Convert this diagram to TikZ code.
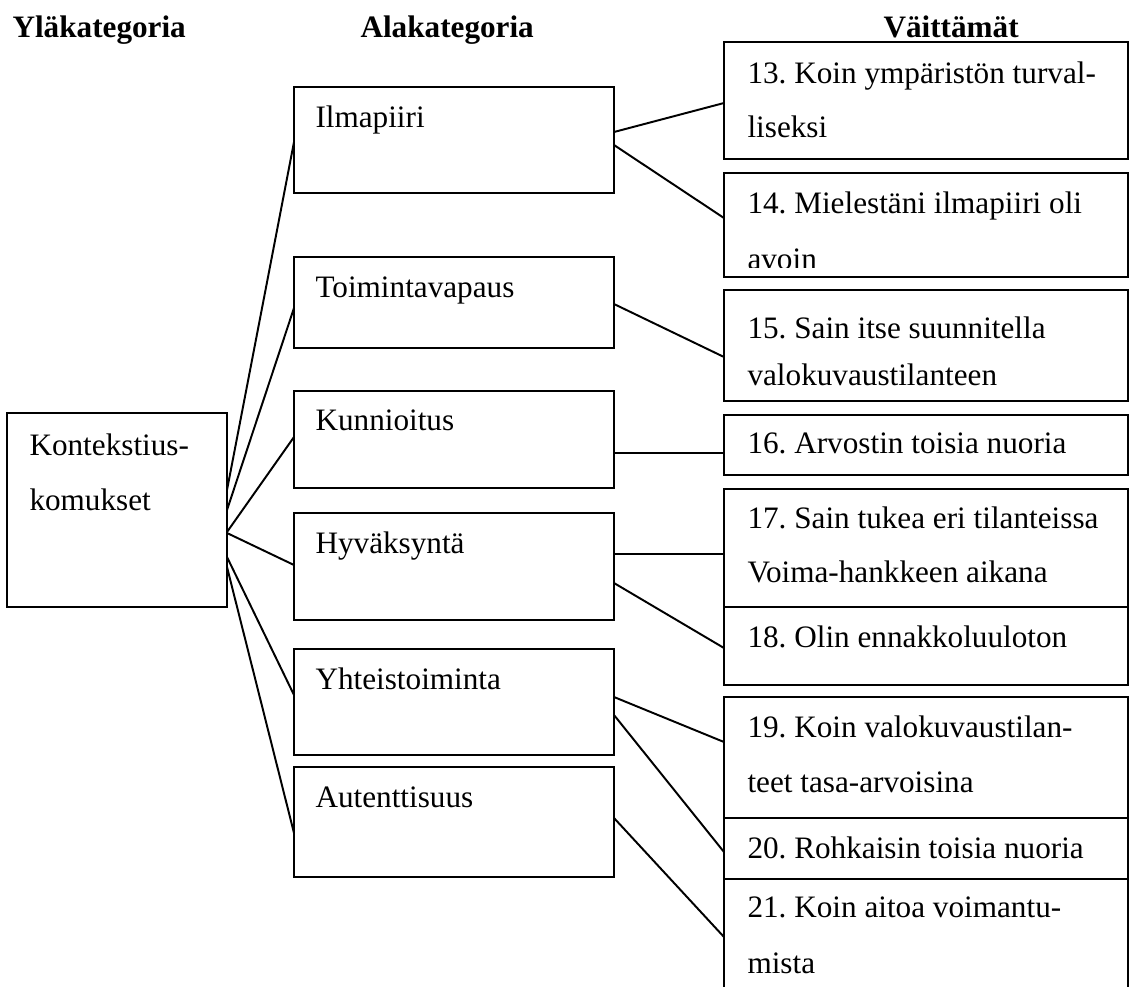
\documentclass[tikz,border=0pt]{standalone}
\usepackage{fontspec}
\setmainfont{Liberation Serif}
\usetikzlibrary{fit,calc}
\frenchspacing

\begin{document}
\begin{tikzpicture}[x=0.3846pt,y=-0.3846pt,
  box/.style={draw, line width=0.75pt, rectangle, inner sep=0pt, outer sep=0pt},
  txt/.style={anchor=base west, inner sep=0pt, font=\fontsize{12}{14}\selectfont},
  head/.style={anchor=base west, inner sep=0pt, font=\fontsize{12}{14}\selectfont\bfseries},
  link/.style={line width=0.75pt}]

\useasboundingbox (0,0) rectangle (1129,986);
\clip (0,0) rectangle (1129,986);

% column headings
\node[head] (h1) at (12,37)  {Yläkategoria};
\node[head] (h2) at (360,37) {Alakategoria};
\node[head] (h3) at (883,37) {Väittämät};

% main category
\node[box, fit={(7,413) (227,607)}] (ctx) {};
\node[txt] (ctxa) at (29,455) {Kontekstius-};
\node[txt] (ctxb) at (29,510) {komukset};

% subcategories
\node[box, fit={(294,87)  (614,193)}] (ilma) {};
\node[box, fit={(294,257) (614,348)}] (toim) {};
\node[box, fit={(294,391) (614,488)}] (kunn) {};
\node[box, fit={(294,513) (614,620)}] (hyva) {};
\node[box, fit={(294,649) (614,755)}] (yhte) {};
\node[box, fit={(294,767) (614,877)}] (aute) {};
\node[txt] (tilma) at (315,127) {Ilmapiiri};
\node[txt] (ttoim) at (315,297) {Toimintavapaus};
\node[txt] (tkunn) at (315,430) {Kunnioitus};
\node[txt] (thyva) at (315,553) {Hyväksyntä};
\node[txt] (tyhte) at (315,689) {Yhteistoiminta};
\node[txt] (taute) at (315,807) {Autenttisuus};

% statements
\node[box, fit={(724,42)  (1128,159)}] (s13) {};
\node[box, fit={(724,173) (1128,277)}] (s14) {};
\node[box, fit={(724,290) (1128,401)}] (s15) {};
\node[box, fit={(724,415) (1128,475)}] (s16) {};
\node[box, fit={(724,489) (1128,607)}] (s17) {};
\node[box, fit={(724,607) (1128,685)}] (s18) {};
\node[box, fit={(724,697) (1128,818)}] (s19) {};
\node[box, fit={(724,818) (1128,879)}] (s20) {};
\node[box, fit={(724,879) (1128,1000)}] (s21) {};

\node[txt] (t13a) at (747,83)  {13. Koin ympäristön turval-};
\node[txt] (t13b) at (747,137) {liseksi};
\node[txt] (t14a) at (747,213) {14. Mielestäni ilmapiiri oli};
\begin{scope}
  \clip (724,173) rectangle (1128,267);
  \node[txt] (t14b) at (747,269) {avoin};
\end{scope}
\node[txt] (t15a) at (747,338) {15. Sain itse suunnitella};
\node[txt] (t15b) at (747,385) {valokuvaustilanteen};
\node[txt] (t16)  at (747,453) {16. Arvostin toisia nuoria};
\node[txt] (t17a) at (747,528) {17. Sain tukea eri tilanteissa};
\node[txt] (t17b) at (747,582) {Voima-hankkeen aikana};
\node[txt] (t18)  at (747,647) {18. Olin ennakkoluuloton};
\node[txt] (t19a) at (747,737) {19. Koin valokuvaustilan-};
\node[txt] (t19b) at (747,792) {teet tasa-arvoisina};
\node[txt] (t20)  at (747,858) {20. Rohkaisin toisia nuoria};
\node[txt] (t21a) at (747,917) {21. Koin aitoa voimantu-};
\node[txt] (t21b) at (747,973) {mista};

% main category to subcategories
\draw[link] ($(ctx.north east)+(0,77)$)  -- ($(ilma.north west)+(0,55)$);
\draw[link] ($(ctx.north east)+(0,97)$)  -- ($(toim.north west)+(0,51)$);
\draw[link] ($(ctx.north east)+(0,119)$) -- ($(kunn.north west)+(0,46)$);
\draw[link] ($(ctx.north east)+(0,120)$) -- ($(hyva.north west)+(0,52)$);
\draw[link] ($(ctx.north east)+(0,144)$) -- ($(yhte.north west)+(0,46)$);
\draw[link] ($(ctx.north east)+(0,154)$) -- ($(aute.north west)+(0,66)$);

% subcategories to statements
\draw[link] ($(ilma.north east)+(0,45)$) -- ($(s13.north west)+(0,61)$);
\draw[link] ($(ilma.north east)+(0,58)$) -- ($(s14.north west)+(0,45)$);
\draw[link] ($(toim.north east)+(0,47)$) -- ($(s15.north west)+(0,67)$);
\draw[link] ($(kunn.north east)+(0,62)$) -- ($(s16.north west)+(0,38)$);
\draw[link] ($(hyva.north east)+(0,41)$) -- ($(s17.north west)+(0,65)$);
\draw[link] ($(hyva.north east)+(0,70)$) -- ($(s18.north west)+(0,41)$);
\draw[link] ($(yhte.north east)+(0,48)$) -- ($(s19.north west)+(0,45)$);
\draw[link] ($(yhte.north east)+(0,66)$) -- ($(s20.north west)+(0,34)$);
\draw[link] ($(aute.north east)+(0,51)$) -- ($(s21.north west)+(0,58)$);

\end{tikzpicture}
\end{document}
